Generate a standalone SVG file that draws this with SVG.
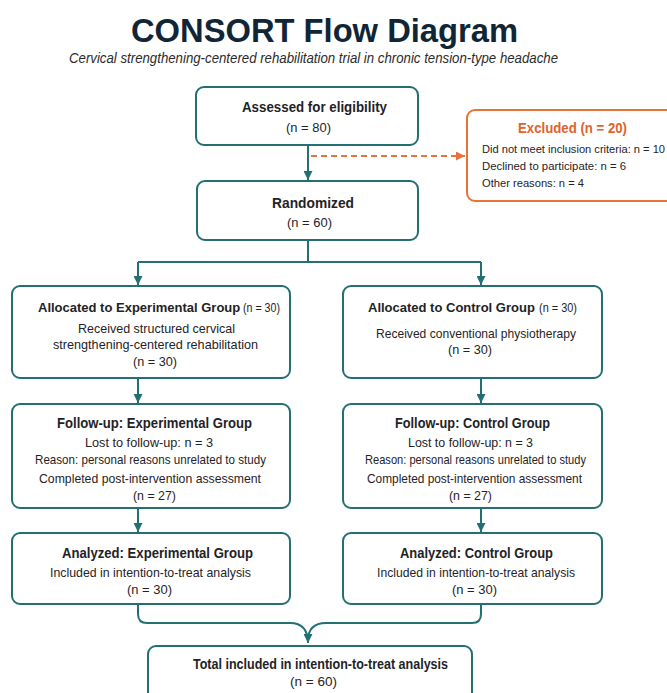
<svg xmlns="http://www.w3.org/2000/svg" width="667" height="693" viewBox="0 0 667 693">
<style>
.box{fill:#fff;stroke:#236f72;stroke-width:2}
.exc{fill:#fff;stroke:#e8733a;stroke-width:2}
.c{fill:none;stroke:#236f72;stroke-width:2}
.d{fill:none;stroke:#e8733a;stroke-width:2;stroke-dasharray:6 4}
text{font-family:"Liberation Sans",Arial,sans-serif;fill:#1f2326}
.h{font-size:15px;font-weight:700}
.h2{font-size:13px;font-weight:700}
.t{font-size:13.5px}
.s{font-size:12px}
.o{fill:#e2622a;font-size:15.5px;font-weight:700}
.e{font-size:11px}
</style>
<defs>
<marker id="a" viewBox="0 0 10 10" refX="10" refY="5" markerWidth="4.5" markerHeight="4.5" orient="auto" markerUnits="strokeWidth"><path d="M0,0L10,5L0,10z" fill="#236f72"/></marker>
<marker id="ao" viewBox="0 0 10 10" refX="10" refY="5" markerWidth="4.5" markerHeight="4.5" orient="auto" markerUnits="strokeWidth"><path d="M0,0L10,5L0,10z" fill="#e8733a"/></marker>
</defs>
<rect width="667" height="693" fill="#fff"/>
<g id="title">
<text x="131" y="42" style="font-size:34px;font-weight:700;fill:#102536" textLength="387" lengthAdjust="spacingAndGlyphs">CONSORT Flow Diagram</text>
<text x="69" y="63" style="font-size:14px;font-style:italic;fill:#2b2b2b" textLength="489" lengthAdjust="spacingAndGlyphs">Cervical strengthening-centered rehabilitation trial in chronic tension-type headache</text>
</g>
<g id="connectors">
<path class="c" d="M308,145V180" marker-end="url(#a)"/>
<path class="d" d="M311,156H465" marker-end="url(#ao)"/>
<path class="c" d="M308,240V262"/>
<path class="c" d="M138,262H481"/>
<path class="c" d="M138,262V285" marker-end="url(#a)"/>
<path class="c" d="M481,262V285" marker-end="url(#a)"/>
<path class="c" d="M138,378V403" marker-end="url(#a)"/>
<path class="c" d="M481,378V403" marker-end="url(#a)"/>
<path class="c" d="M138,508V532" marker-end="url(#a)"/>
<path class="c" d="M481,508V532" marker-end="url(#a)"/>
<path class="c" d="M138,604V614Q138,623 147,623H290Q308,623 308,643" marker-end="url(#a)"/>
<path class="c" d="M481,604V614Q481,623 472,623H326Q308,623 308,641"/>
</g>
<g id="assessed">
<rect class="box" x="196" y="87" width="222" height="58" rx="8"/>
<text class="h" x="242" y="112" textLength="145" lengthAdjust="spacingAndGlyphs">Assessed for eligibility</text>
<text class="t" x="286" y="132" textLength="45" lengthAdjust="spacingAndGlyphs">(n = 80)</text>
</g>
<g id="excluded">
<rect class="exc" x="467" y="110" width="215" height="91" rx="8"/>
<text class="o" x="518" y="133" textLength="109" lengthAdjust="spacingAndGlyphs">Excluded (n = 20)</text>
<text class="e" x="482" y="153" textLength="183" lengthAdjust="spacingAndGlyphs">Did not meet inclusion criteria: n = 10</text>
<text class="e" x="482" y="170" textLength="144" lengthAdjust="spacingAndGlyphs">Declined to participate: n = 6</text>
<text class="e" x="482" y="187" textLength="102" lengthAdjust="spacingAndGlyphs">Other reasons: n = 4</text>
</g>
<g id="randomized">
<rect class="box" x="197" y="181" width="221" height="59" rx="8"/>
<text class="h" x="272" y="208" textLength="82" lengthAdjust="spacingAndGlyphs">Randomized</text>
<text class="t" x="287" y="227" textLength="45" lengthAdjust="spacingAndGlyphs">(n = 60)</text>
</g>
<g id="alloc-exp">
<rect class="box" x="12" y="286" width="278" height="92" rx="8"/>
<text class="h2" x="38" y="312">Allocated to Experimental Group</text>
<text class="s" x="243" y="312" textLength="37" lengthAdjust="spacingAndGlyphs">(n = 30)</text>
<text class="t" x="78" y="333" textLength="157" lengthAdjust="spacingAndGlyphs">Received structured cervical</text>
<text class="t" x="53" y="349" textLength="205" lengthAdjust="spacingAndGlyphs">strengthening-centered rehabilitation</text>
<text class="t" x="133" y="366" textLength="44" lengthAdjust="spacingAndGlyphs">(n = 30)</text>
</g>
<g id="alloc-ctrl">
<rect class="box" x="343" y="286" width="259" height="92" rx="8"/>
<text class="h2" x="368" y="312">Allocated to Control Group</text>
<text class="s" x="539" y="312" textLength="38" lengthAdjust="spacingAndGlyphs">(n = 30)</text>
<text class="t" x="376" y="338" textLength="200" lengthAdjust="spacingAndGlyphs">Received conventional physiotherapy</text>
<text class="t" x="448" y="354" textLength="44" lengthAdjust="spacingAndGlyphs">(n = 30)</text>
</g>
<g id="followup-exp">
<rect class="box" x="12" y="404" width="278" height="104" rx="8"/>
<text class="h" x="57" y="428" textLength="195" lengthAdjust="spacingAndGlyphs">Follow-up: Experimental Group</text>
<text class="t" x="85" y="447" textLength="128" lengthAdjust="spacingAndGlyphs">Lost to follow-up: n = 3</text>
<text class="t" x="35" y="464" textLength="231" lengthAdjust="spacingAndGlyphs">Reason: personal reasons unrelated to study</text>
<text class="t" x="39" y="483" textLength="222" lengthAdjust="spacingAndGlyphs">Completed post-intervention assessment</text>
<text class="t" x="133" y="500" textLength="43" lengthAdjust="spacingAndGlyphs">(n = 27)</text>
</g>
<g id="followup-ctrl">
<rect class="box" x="343" y="404" width="259" height="104" rx="8"/>
<text class="h" x="395" y="428" textLength="155" lengthAdjust="spacingAndGlyphs">Follow-up: Control Group</text>
<text class="t" x="408" y="447" textLength="125" lengthAdjust="spacingAndGlyphs">Lost to follow-up: n = 3</text>
<text class="t" x="365" y="464" textLength="221" lengthAdjust="spacingAndGlyphs">Reason: personal reasons unrelated to study</text>
<text class="t" x="367" y="483" textLength="215" lengthAdjust="spacingAndGlyphs">Completed post-intervention assessment</text>
<text class="t" x="449" y="500" textLength="43" lengthAdjust="spacingAndGlyphs">(n = 27)</text>
</g>
<g id="analyzed-exp">
<rect class="box" x="12" y="533" width="278" height="71" rx="8"/>
<text class="h" x="62" y="558" textLength="191" lengthAdjust="spacingAndGlyphs">Analyzed: Experimental Group</text>
<text class="t" x="50" y="577" textLength="201" lengthAdjust="spacingAndGlyphs">Included in intention-to-treat analysis</text>
<text class="t" x="127" y="594" textLength="45" lengthAdjust="spacingAndGlyphs">(n = 30)</text>
</g>
<g id="analyzed-ctrl">
<rect class="box" x="343" y="533" width="259" height="71" rx="8"/>
<text class="h" x="400" y="558" textLength="153" lengthAdjust="spacingAndGlyphs">Analyzed: Control Group</text>
<text class="t" x="377" y="577" textLength="198" lengthAdjust="spacingAndGlyphs">Included in intention-to-treat analysis</text>
<text class="t" x="452" y="594" textLength="45" lengthAdjust="spacingAndGlyphs">(n = 30)</text>
</g>
<g id="total">
<rect class="box" x="148" y="646" width="324" height="60" rx="8"/>
<text class="h" x="193" y="669" textLength="255" lengthAdjust="spacingAndGlyphs">Total included in intention-to-treat analysis</text>
<text class="t" x="290" y="686" textLength="47" lengthAdjust="spacingAndGlyphs">(n = 60)</text>
</g>
</svg>
